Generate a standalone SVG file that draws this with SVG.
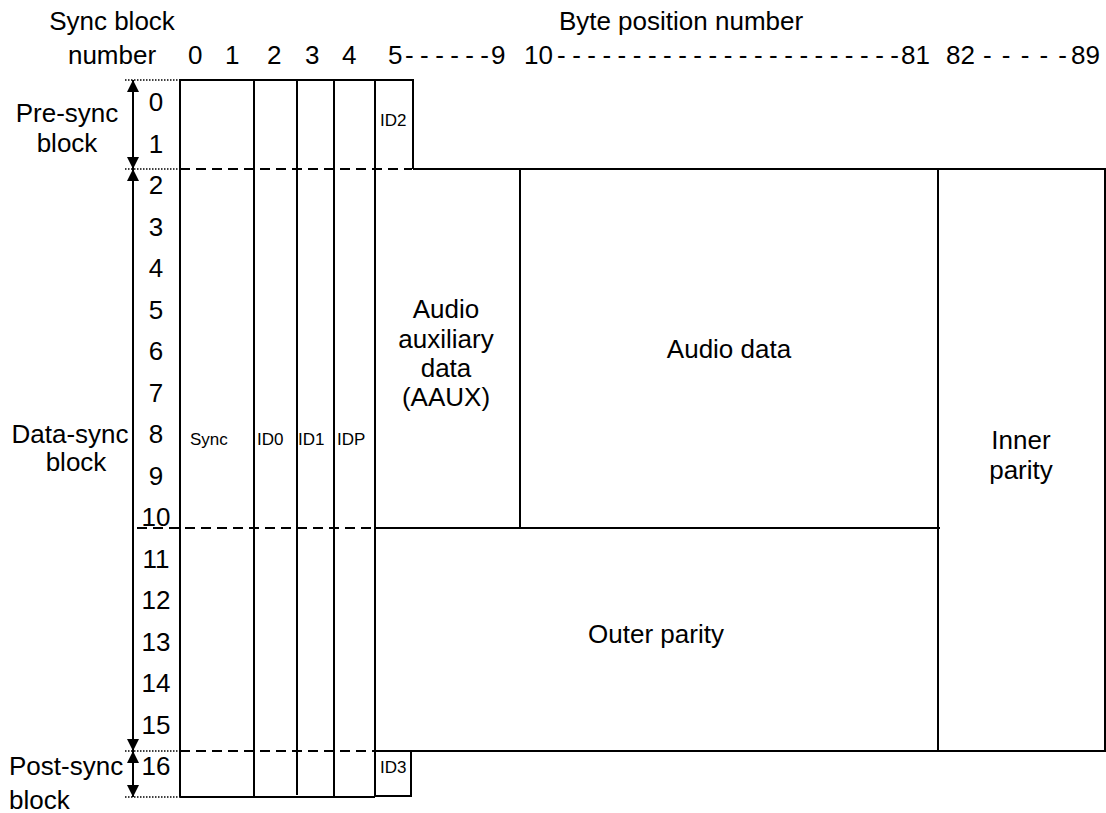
<svg xmlns="http://www.w3.org/2000/svg" width="1106" height="813" viewBox="0 0 1106 813">
  <style>
    text { font-family: "Liberation Sans", Arial, sans-serif; fill: #000; }
    .lg { font-size: 26px; }
    .sm { font-size: 17px; }
    .mid { text-anchor: middle; }
    .solid { stroke: #000; stroke-width: 2; fill: none; }
    .dash { stroke: #000; stroke-width: 2; fill: none; stroke-dasharray: 10 6; }
    .dot { stroke: #000; stroke-width: 1.5; fill: none; stroke-dasharray: 1.5 1.5; }
    .axis { stroke: #000; stroke-width: 2; fill: none; marker-start: url(#tip); marker-end: url(#tip); }
  </style>
  <defs>
    <marker id="tip" viewBox="0 0 12 12" refX="12" refY="6" markerWidth="12" markerHeight="12" markerUnits="userSpaceOnUse" orient="auto-start-reverse">
      <path d="M0,0 L12,6 L0,12 z" fill="#000"/>
    </marker>
  </defs>
  <rect width="1106" height="813" fill="#fff"/>

  <!-- headings -->
  <g id="headings">
    <text class="lg mid" x="112" y="30">Sync block</text>
    <text class="lg mid" x="112" y="64">number</text>
    <text class="lg mid" x="681" y="30">Byte position number</text>
  </g>

  <!-- byte position scale -->
  <g id="byte-scale" class="lg">
    <text x="188" y="64">0</text>
    <text x="225" y="64">1</text>
    <text x="267" y="64">2</text>
    <text x="305" y="64">3</text>
    <text x="342" y="64">4</text>
    <text x="388" y="64">5</text>
    <text x="405" y="64" textLength="84" lengthAdjust="spacing">- - - - - -</text>
    <text x="491" y="64">9</text>
    <text x="524" y="64">10</text>
    <text x="557" y="64" textLength="342" lengthAdjust="spacing">- - - - - - - - - - - - - - - - - - - - - - -</text>
    <text x="901" y="64">81</text>
    <text x="946" y="64">82</text>
    <text x="983" y="64" textLength="84" lengthAdjust="spacing">- - - - -</text>
    <text x="1071" y="64">89</text>
  </g>

  <!-- sync block numbers -->
  <g id="row-numbers" class="lg mid">
    <text x="156" y="111">0</text>
    <text x="156" y="152.5">1</text>
    <text x="156" y="194">2</text>
    <text x="156" y="235.5">3</text>
    <text x="156" y="277">4</text>
    <text x="156" y="318.5">5</text>
    <text x="156" y="360">6</text>
    <text x="156" y="401.5">7</text>
    <text x="156" y="443">8</text>
    <text x="156" y="484.5">9</text>
    <text x="156" y="526">10</text>
    <text x="156" y="567.5">11</text>
    <text x="156" y="609">12</text>
    <text x="156" y="650.5">13</text>
    <text x="156" y="692">14</text>
    <text x="156" y="733.5">15</text>
    <text x="156" y="775">16</text>
  </g>

  <!-- block group labels -->
  <g id="pre-sync-label" class="lg mid">
    <text x="67" y="122">Pre-sync</text>
    <text x="67" y="152">block</text>
  </g>
  <g id="data-sync-label" class="lg mid">
    <text x="70" y="443">Data-sync</text>
    <text x="76" y="471">block</text>
  </g>
  <g id="post-sync-label" class="lg">
    <text x="9" y="775">Post-sync</text>
    <text x="9" y="809">block</text>
  </g>

  <!-- extent arrows and guide lines -->
  <g id="connectors">
    <line class="axis" x1="133" y1="80" x2="133" y2="169"/>
    <line class="axis" x1="133" y1="169" x2="133" y2="751"/>
    <line class="axis" x1="133" y1="751" x2="133" y2="797"/>
    <line class="dot" x1="125" y1="80" x2="180" y2="80"/>
    <line class="dot" x1="125" y1="169" x2="180" y2="169"/>
    <line class="dot" x1="125" y1="751" x2="180" y2="751"/>
    <line class="dot" x1="125" y1="797" x2="180" y2="797"/>
    <line class="dash" x1="180" y1="169" x2="412" y2="169"/>
    <line class="dash" x1="137" y1="528" x2="375" y2="528"/>
    <line class="dash" x1="180" y1="751" x2="410" y2="751"/>
  </g>

  <!-- sync and ID columns -->
  <g id="id-columns">
    <polyline class="solid" points="180,797 180,80 413,80 413,169"/>
    <line class="solid" x1="180" y1="797" x2="375" y2="797"/>
    <line class="solid" x1="254" y1="80" x2="254" y2="797"/>
    <line class="solid" x1="297" y1="80" x2="297" y2="795"/>
    <line class="solid" x1="334" y1="80" x2="334" y2="797"/>
    <line class="solid" x1="375" y1="80" x2="375" y2="797"/>
    <text class="sm" x="190" y="445">Sync</text>
    <text class="sm" x="257" y="445">ID0</text>
    <text class="sm" x="298" y="445">ID1</text>
    <text class="sm" x="337" y="445">IDP</text>
  </g>

  <g id="id2">
    <text class="sm" x="380" y="126">ID2</text>
  </g>

  <g id="id3">
    <polyline class="solid" points="375,796 411,796 411,751"/>
    <text class="sm" x="380" y="773">ID3</text>
  </g>

  <!-- payload area -->
  <g id="payload-frame">
    <polyline class="solid" points="413,169 1105,169 1105,751 375,751"/>
  </g>

  <g id="aaux">
    <line class="solid" x1="520" y1="169" x2="520" y2="528"/>
    <text class="lg mid" x="446" y="318">Audio</text>
    <text class="lg mid" x="446" y="348">auxiliary</text>
    <text class="lg mid" x="446" y="377">data</text>
    <text class="lg mid" x="446" y="406">(AAUX)</text>
  </g>

  <g id="audio-data">
    <line class="solid" x1="375" y1="528" x2="940" y2="528"/>
    <text class="lg mid" x="729" y="358">Audio data</text>
  </g>

  <g id="outer-parity">
    <text class="lg mid" x="656" y="643">Outer parity</text>
  </g>

  <g id="inner-parity">
    <line class="solid" x1="938" y1="169" x2="938" y2="751"/>
    <text class="lg mid" x="1021" y="449">Inner</text>
    <text class="lg mid" x="1021" y="479">parity</text>
  </g>
</svg>
